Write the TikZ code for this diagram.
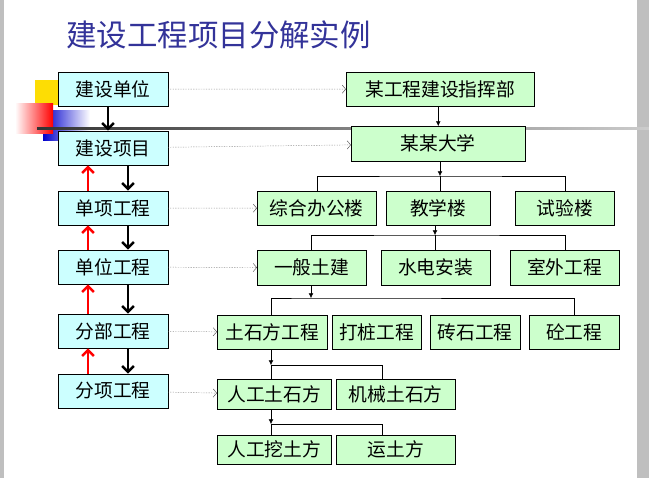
\documentclass[tikz,border=0pt]{standalone}
\usepackage{fontspec}
\newfontfamily\cjk{Noto Sans CJK SC}
\usetikzlibrary{arrows.meta,positioning}
\definecolor{lvcyan}{RGB}{204,255,255}
\definecolor{lvgreen}{RGB}{204,255,204}
\definecolor{titleblue}{RGB}{51,51,153}
\begin{document}
\begin{tikzpicture}[x=0.03cm,y=-0.03cm,
  every node/.style={font=\cjk\fontsize{16}{18}\selectfont,inner sep=0pt},
  lvl/.style={draw,thick,fill=lvcyan,minimum width=3.3cm,minimum height=1.02cm},
  unit/.style={draw,fill=lvgreen,anchor=north west},
  down/.style={-{Straight Barb[length=5pt,width=10pt]},line width=2pt},
  up/.style={-{Straight Barb[length=5pt,width=10pt]},line width=2pt,red},
  dots/.style={densely dotted,gray!70!black,-{Straight Barb[length=3pt,width=7pt]}},
  tree/.style={-{Latex[length=4pt,width=4pt]}}
]
\useasboundingbox (0,0) rectangle (649,478);
\fill[gray!50] (0,0) rectangle (4,478);
\fill[gray!50] (637,0) rectangle (649,478);
% corner decoration
\fill[yellow!80!orange] (35,80) rectangle (58,105);
\shade[left color=blue!80!black,right color=white] (43,110) rectangle (90,140);
\shade[left color=white,right color=red] (15,103) rectangle (53,133);
\shade[left color=black!80,right color=gray!40] (37,127) rectangle (649,129);
\node[font=\cjk\fontsize{26}{30}\selectfont,titleblue,anchor=west] (title) at (66,35) {建设工程项目分解实例};

% left levels
\node[lvl] (l1) at (113,89) {建设单位};
\node[lvl] (l2) at (113,148) {建设项目};
\node[lvl] (l3) at (113,208) {单项工程};
\node[lvl] (l4) at (113,267) {单位工程};
\node[lvl] (l5) at (113,331) {分部工程};
\node[lvl] (l6) at (113,391) {分项工程};

\draw[down] (l1.south -| 108,0) -- (l2.north -| 108,0);
\foreach \a/\b in {l2/l3,l3/l4,l4/l5,l5/l6} {
  \draw[down] (\a.south -| 128,0) -- (\b.north -| 128,0);
  \draw[up] (\b.north -| 88,0) -- (\a.south -| 88,0);
}

% right units
\node[unit,minimum width=5.64cm,minimum height=1.02cm] (hq) at (346,72) {某工程建设指挥部};
\node[unit,minimum width=5.22cm,minimum height=1.05cm] (uni) at (351,126) {某某大学};
\node[unit,minimum width=3.57cm,minimum height=1.02cm] (b1) at (257,191) {综合办公楼};
\node[unit,minimum width=3.12cm,minimum height=1.02cm] (b2) at (386,191) {教学楼};
\node[unit,minimum width=2.97cm,minimum height=1.02cm] (b3) at (515,191) {试验楼};
\node[unit,minimum width=3.27cm,minimum height=1.05cm] (c1) at (257,250) {一般土建};
\node[unit,minimum width=3.27cm,minimum height=1.05cm] (c2) at (381,250) {水电安装};
\node[unit,minimum width=3.27cm,minimum height=1.05cm] (c3) at (510,250) {室外工程};
\node[unit,minimum width=3.30cm,minimum height=1.02cm] (d1) at (217,315) {土石方工程};
\node[unit,minimum width=2.67cm,minimum height=1.02cm] (d2) at (332,315) {打桩工程};
\node[unit,minimum width=2.70cm,minimum height=1.02cm] (d3) at (430,315) {砖石工程};
\node[unit,minimum width=2.70cm,minimum height=1.02cm] (d4) at (529,315) {砼工程};
\node[unit,minimum width=3.42cm,minimum height=0.90cm] (e1) at (217,379) {人工土石方};
\node[unit,minimum width=3.57cm,minimum height=0.90cm] (e2) at (336,379) {机械土石方};
\node[unit,minimum width=3.42cm,minimum height=0.87cm] (f1) at (217,435) {人工挖土方};
\node[unit,minimum width=3.57cm,minimum height=0.87cm] (f2) at (336,435) {运土方};

% dotted links
\draw[dots] (l1) -- (hq);
\draw[dots] (l2) -- (uni);
\draw[dots] (l3) -- (b1);
\draw[dots] (l4) -- (c1);
\draw[dots] (l5) -- (d1);
\draw[dots] (l6) -- (e1);

% tree
\draw[tree] (hq.south -| uni) -- (uni.north);
\coordinate (j1) at (440,176);
\draw[tree] (uni.south -| j1) -- (j1);
\draw (b1.north) |- (j1) -| (b3.north);
\draw (j1) -- (j1 |- b2.north);
\coordinate (j2) at (435,235);
\draw[tree] (b2.south -| j2) -- (j2);
\draw (c1.north -| 311,0) |- (j2) -| (c3.north -| 565,0);
\draw (j2) -- (j2 |- c2.north);
\coordinate (j3) at (311,298);
\draw[tree] (c1.south -| j3) -- (j3);
\draw (d1.north -| 271,0) |- (j3) -| (d4.north -| 574,0);
\draw (d2.north -| 376,0) -- (d2.north -| 376,298);
\draw (d3.north -| 475,0) -- (d3.north -| 475,298);
\coordinate (j4) at (271,365);
\draw[tree] (d1.south -| j4) -- (j4);
\draw (e1.north -| j4) -- (j4) -| (e2.north -| 382,0);
\coordinate (j5) at (271,424);
\draw[tree] (e1.south -| j5) -- (j5);
\draw (f1.north -| j5) -- (j5) -| (f2.north -| 382,0);
\end{tikzpicture}
\end{document}
